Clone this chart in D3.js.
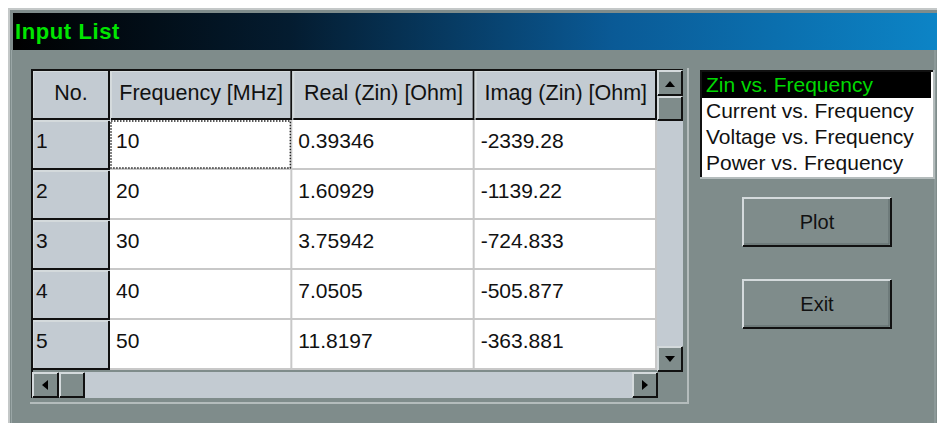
<!DOCTYPE html>
<html>
<head>
<meta charset="utf-8">
<script src="https://cdn.jsdelivr.net/npm/d3@7"></script>
<style>
  html, body { margin: 0; padding: 0; background: #ffffff; }
  svg { display: block; }
  text { font-family: "Liberation Sans", Arial, sans-serif; }
</style>
</head>
<body>
<div id="vis"></div>
<script>
let titleText = "Input List";
let columnHeaders = ["No.", "Frequency [MHz]", "Real (Zin) [Ohm]", "Imag (Zin) [Ohm]"];
let rowNumbers = ["1", "2", "3", "4", "5"];
let frequencies = ["10", "20", "30", "40", "50"];
let realZin = ["0.39346", "1.60929", "3.75942", "7.0505", "11.8197"];
let imagZin = ["-2339.28", "-1139.22", "-724.833", "-505.877", "-363.881"];
let plotChoices = ["Zin vs. Frequency", "Current vs. Frequency", "Voltage vs. Frequency", "Power vs. Frequency"];
let buttonLabels = ["Plot", "Exit"];

let W = 937, H = 423;
let bg = "#7f8c8b", light = "#c3cbd2", hi = "#d4dadc", dark = "#111";

let svg = d3.select("#vis").append("svg")
  .attr("width", W).attr("height", H);

// gradient for the caption
let grad = svg.append("defs").append("linearGradient").attr("id", "cap");
[["0%", "#000000"], ["30%", "#041c30"], ["65%", "#0a5a96"], ["100%", "#0c84c6"]]
  .forEach(s => grad.append("stop").attr("offset", s[0]).attr("stop-color", s[1]));

// window body
svg.append("rect").attr("x", 8).attr("y", 8).attr("width", W - 8).attr("height", H - 8).attr("fill", bg);
svg.append("line").attr("x1", 8).attr("y1", 9).attr("x2", W).attr("y2", 9).attr("stroke", "#c4c8c8").attr("stroke-width", 2);
svg.append("line").attr("x1", 9).attr("y1", 8).attr("x2", 9).attr("y2", H).attr("stroke", "#c4c8c8").attr("stroke-width", 2);
svg.append("line").attr("x1", 11.5).attr("y1", 50).attr("x2", 11.5).attr("y2", H).attr("stroke", "#9aa6a6").attr("stroke-width", 1);
svg.append("line").attr("x1", 935).attr("y1", 50).attr("x2", 935).attr("y2", H).attr("stroke", "#9aa6a6").attr("stroke-width", 1);

// caption bar
svg.append("rect").attr("x", 13).attr("y", 13).attr("width", W - 13).attr("height", 37).attr("fill", "url(#cap)");
svg.append("text").attr("x", 15).attr("y", 39).text(titleText)
  .attr("fill", "#00e600").attr("font-weight", "bold").attr("font-size", 22).attr("letter-spacing", 0.6);

// bevel helper: raised box
function raised(g, x, y, w, h, fill) {
  g.append("rect").attr("x", x).attr("y", y).attr("width", w).attr("height", h).attr("fill", fill);
  g.append("path").attr("d", `M${x + 1},${y + h - 1}V${y + 1}H${x + w - 1}`)
    .attr("fill", "none").attr("stroke", hi).attr("stroke-width", 2);
  g.append("path").attr("d", `M${x + 1},${y + h - 1}H${x + w - 1}V${y + 1}`)
    .attr("fill", "none").attr("stroke", dark).attr("stroke-width", 2);
}

// grid frame (inset look)
let gx0 = 30, gy0 = 68, gx1 = 688, gy1 = 403;
svg.append("path").attr("d", `M${gx0},${gy1}H${gx1}V${gy0}`).attr("fill", "none").attr("stroke", "#b4bcbc").attr("stroke-width", 2);

// table geometry
let tLeft = 32, tTop = 70, numW = 78, headH = 50;
let x = d3.scaleBand().domain(d3.range(3)).range([tLeft + numW, 657]);
let y = d3.scaleBand().domain(rowNumbers).range([tTop + headH, 370]);

let grid = svg.append("g");
// white cells area
grid.append("rect").attr("x", tLeft + numW).attr("y", tTop + headH)
  .attr("width", 657 - tLeft - numW).attr("height", 370 - tTop - headH).attr("fill", "#ffffff");

// header cells
let headerX = [tLeft].concat(x.domain().map(i => x(i)));
let headerW = [numW].concat(x.domain().map(() => x.bandwidth()));
columnHeaders.forEach((h, i) => {
  raised(grid, headerX[i], tTop, headerW[i], headH, light);
  grid.append("text").attr("x", headerX[i] + headerW[i] / 2).attr("y", tTop + 30)
    .attr("text-anchor", "middle").attr("font-size", 21.5).attr("fill", "#111").text(h);
});

// row header cells
rowNumbers.forEach(r => {
  raised(grid, tLeft, y(r), numW, y.bandwidth(), light);
  grid.append("text").attr("x", tLeft + 4).attr("y", y(r) + 28)
    .attr("font-size", 21).attr("fill", "#111").text(r);
});

// data grid lines
rowNumbers.forEach(r => {
  grid.append("line").attr("x1", tLeft + numW).attr("x2", 657)
    .attr("y1", y(r) + y.bandwidth() - 1).attr("y2", y(r) + y.bandwidth() - 1)
    .attr("stroke", "#c8c8c8").attr("stroke-width", 2);
});
x.domain().forEach(i => {
  grid.append("line").attr("x1", x(i) + x.bandwidth() - 1).attr("x2", x(i) + x.bandwidth() - 1)
    .attr("y1", tTop + headH).attr("y2", 370).attr("stroke", "#c8c8c8").attr("stroke-width", 2);
});

// cell values
let columns = [frequencies, realZin, imagZin];
columns.forEach((col, ci) => {
  grid.selectAll(null).data(col).join("text")
    .attr("x", x(ci) + 6)
    .attr("y", (d, ri) => y(rowNumbers[ri]) + 28)
    .attr("font-size", 21).attr("fill", "#111")
    .text(d => d);
});

// focus rectangle on first cell
grid.append("rect").attr("x", x(0) + 1).attr("y", y(rowNumbers[0]) + 1)
  .attr("width", x.bandwidth() - 3).attr("height", y.bandwidth() - 3)
  .attr("fill", "none").attr("stroke", "#222").attr("stroke-width", 1.5).attr("stroke-dasharray", "1.5,1.5");

// outer dark border of table
grid.append("path").attr("d", `M${tLeft},398V${tTop}H683`).attr("fill", "none").attr("stroke", dark).attr("stroke-width", 2);

// vertical scrollbar
let sb = svg.append("g");
sb.append("rect").attr("x", 657).attr("y", tTop).attr("width", 26).attr("height", 302).attr("fill", light);
raised(sb, 657, tTop, 26, 26, bg);
sb.append("path").attr("d", "M665,87L670,81L675,87Z").attr("fill", "#000");
raised(sb, 657, 96, 26, 25, bg);
raised(sb, 657, 346, 26, 26, bg);
sb.append("path").attr("d", "M665,356L670,362L675,356Z").attr("fill", "#000");

// horizontal scrollbar
sb.append("rect").attr("x", tLeft).attr("y", 372).attr("width", 626).attr("height", 26).attr("fill", light);
raised(sb, tLeft, 372, 27, 26, bg);
sb.append("path").attr("d", "M48,380L42,385L48,390Z").attr("fill", "#000");
raised(sb, 59, 372, 26, 26, bg);
raised(sb, 632, 372, 26, 26, bg);
sb.append("path").attr("d", "M642,380L648,385L642,390Z").attr("fill", "#000");
sb.append("rect").attr("x", 658).attr("y", 372).attr("width", 26).attr("height", 26).attr("fill", bg);

// plot choice list box
let lb = svg.append("g");
let lbX = 700, lbY = 70, lbW = 233, lbH = 107;
lb.append("rect").attr("x", lbX).attr("y", lbY).attr("width", lbW).attr("height", lbH).attr("fill", "#fff");
let ly = d3.scaleBand().domain(plotChoices).range([lbY + 2, lbY + lbH - 1]);
lb.append("rect").attr("x", lbX + 2).attr("y", ly(plotChoices[0])).attr("width", lbW - 4).attr("height", ly.bandwidth())
  .attr("fill", "#000");
lb.selectAll(null).data(plotChoices).join("text")
  .attr("x", lbX + 6).attr("y", d => ly(d) + 20)
  .attr("font-size", 21).attr("fill", (d, i) => i === 0 ? "#00d800" : "#111")
  .text(d => d);
lb.append("path").attr("d", `M${lbX + 1},${lbY + lbH}V${lbY + 1}H${lbX + lbW}`).attr("fill", "none").attr("stroke", dark).attr("stroke-width", 2);
lb.append("path").attr("d", `M${lbX},${lbY + lbH + 1}H${lbX + lbW + 1}V${lbY}`).attr("fill", "none").attr("stroke", "#b4bcbc").attr("stroke-width", 2);

// buttons
let by = d3.scaleBand().domain(buttonLabels).range([197, 329]).paddingInner(0.39);
buttonLabels.forEach(b => {
  let g = svg.append("g");
  raised(g, 742, by(b), 150, by.bandwidth(), bg);
  g.append("path").attr("d", `M744,${by(b) + by.bandwidth() - 3}H889V${by(b) + 2}`)
    .attr("fill", "none").attr("stroke", "#5e6a6a").attr("stroke-width", 1);
  g.append("text").attr("x", 817).attr("y", by(b) + 32).attr("text-anchor", "middle")
    .attr("font-size", 20).attr("fill", "#111").text(b);
});
</script>
</body>
</html>
